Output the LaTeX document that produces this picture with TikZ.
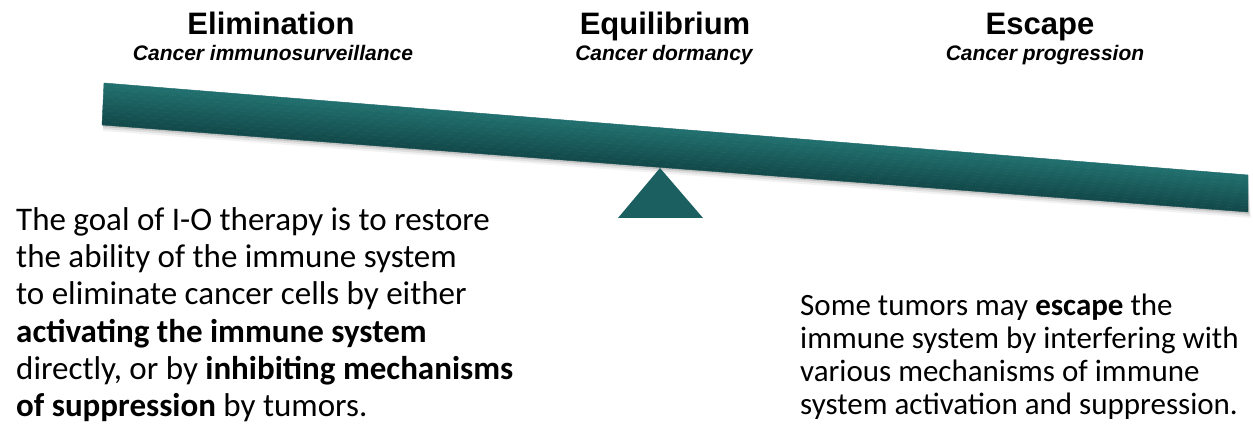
\documentclass[tikz,border=0pt]{standalone}
\usepackage{fontspec}
\setmainfont{Carlito}
\newfontfamily\headfont{Liberation Sans}
\usetikzlibrary{calc}

\definecolor{beamteal}{HTML}{1B5F60}
\definecolor{beamdark}{HTML}{134A4B}
\definecolor{beamlight}{HTML}{21706F}

\tikzset{
  stagetitle/.style={font=\headfont\bfseries\fontsize{31}{35}\selectfont, anchor=base, inner sep=0pt},
  stagesub/.style={font=\headfont\bfseries\itshape\fontsize{21}{25}\selectfont, anchor=base, inner sep=0pt},
  bodytext/.style={font=\fontsize{31}{33}\selectfont, align=left, anchor=base west, inner sep=0pt},
  goaltext/.style={bodytext, font=\fontsize{33}{37.4}\selectfont},
}

\begin{document}
\begin{tikzpicture}[x=1pt, y=-1pt]
    \useasboundingbox (0,0) rectangle (1253,427);

    % stages of the balance
    \node[stagetitle] (elim) at (271,35) {Elimination};
    \node[stagesub] (elimsub) at (273,61) {Cancer immunosurveillance};
    \node[stagetitle] (equi) at (665,35) {Equilibrium};
    \node[stagesub] (equisub) at (664,61) {Cancer dormancy};
    \node[stagetitle] (esc) at (1040,35) {Escape};
    \node[stagesub] (escsub) at (1045,61) {Cancer progression};

    % the beam
    \coordinate (lt) at (104,83);
    \coordinate (lb) at (102,125);
    \coordinate (rt) at (1248,175);
    \coordinate (rb) at (1248,212);
    \foreach \s/\o in {2/0.12,4/0.08,6/0.05}
        \fill[black, opacity=\o] ($(lb)+(1,\s)$) -- ($(rb)+(\s*0.5,\s)$) -- (rt) -- (lt) -- cycle;
    \foreach \i in {0,...,11} {
        \pgfmathsetmacro\a{\i/12}
        \pgfmathsetmacro\b{(\i+1)/12}
        \pgfmathsetmacro\m{100-\i*100/11}
        \filldraw[fill=beamlight!\m!beamdark, draw=beamlight!\m!beamdark, line width=0.4pt]
            ($(lt)!\a!(lb)$) -- ($(rt)!\a!(rb)$) -- ($(rt)!\b!(rb)$) -- ($(lt)!\b!(lb)$) -- cycle;
    }

    % fulcrum
    \coordinate (apex) at (660,168);
    \coordinate (baseL) at (618,218);
    \coordinate (baseR) at (703,218);
    \fill[beamteal] (apex) -- (baseR) -- (baseL) -- cycle;

    % notes (anchored on the last line)
    \node[goaltext] (goal) at (16,417) {The goal of I-O therapy is to restore\\
        the ability of the immune system\\
        to eliminate cancer cells by either\\
        \textbf{activating the immune system}\\
        directly, or by \textbf{inhibiting mechanisms}\\
        \textbf{of suppression} by tumors.};
    \node[bodytext] (escnote) at (800,414) {Some tumors may \textbf{escape} the\\
        immune system by interfering with\\
        various mechanisms of immune\\
        system activation and suppression.};
\end{tikzpicture}
\end{document}
